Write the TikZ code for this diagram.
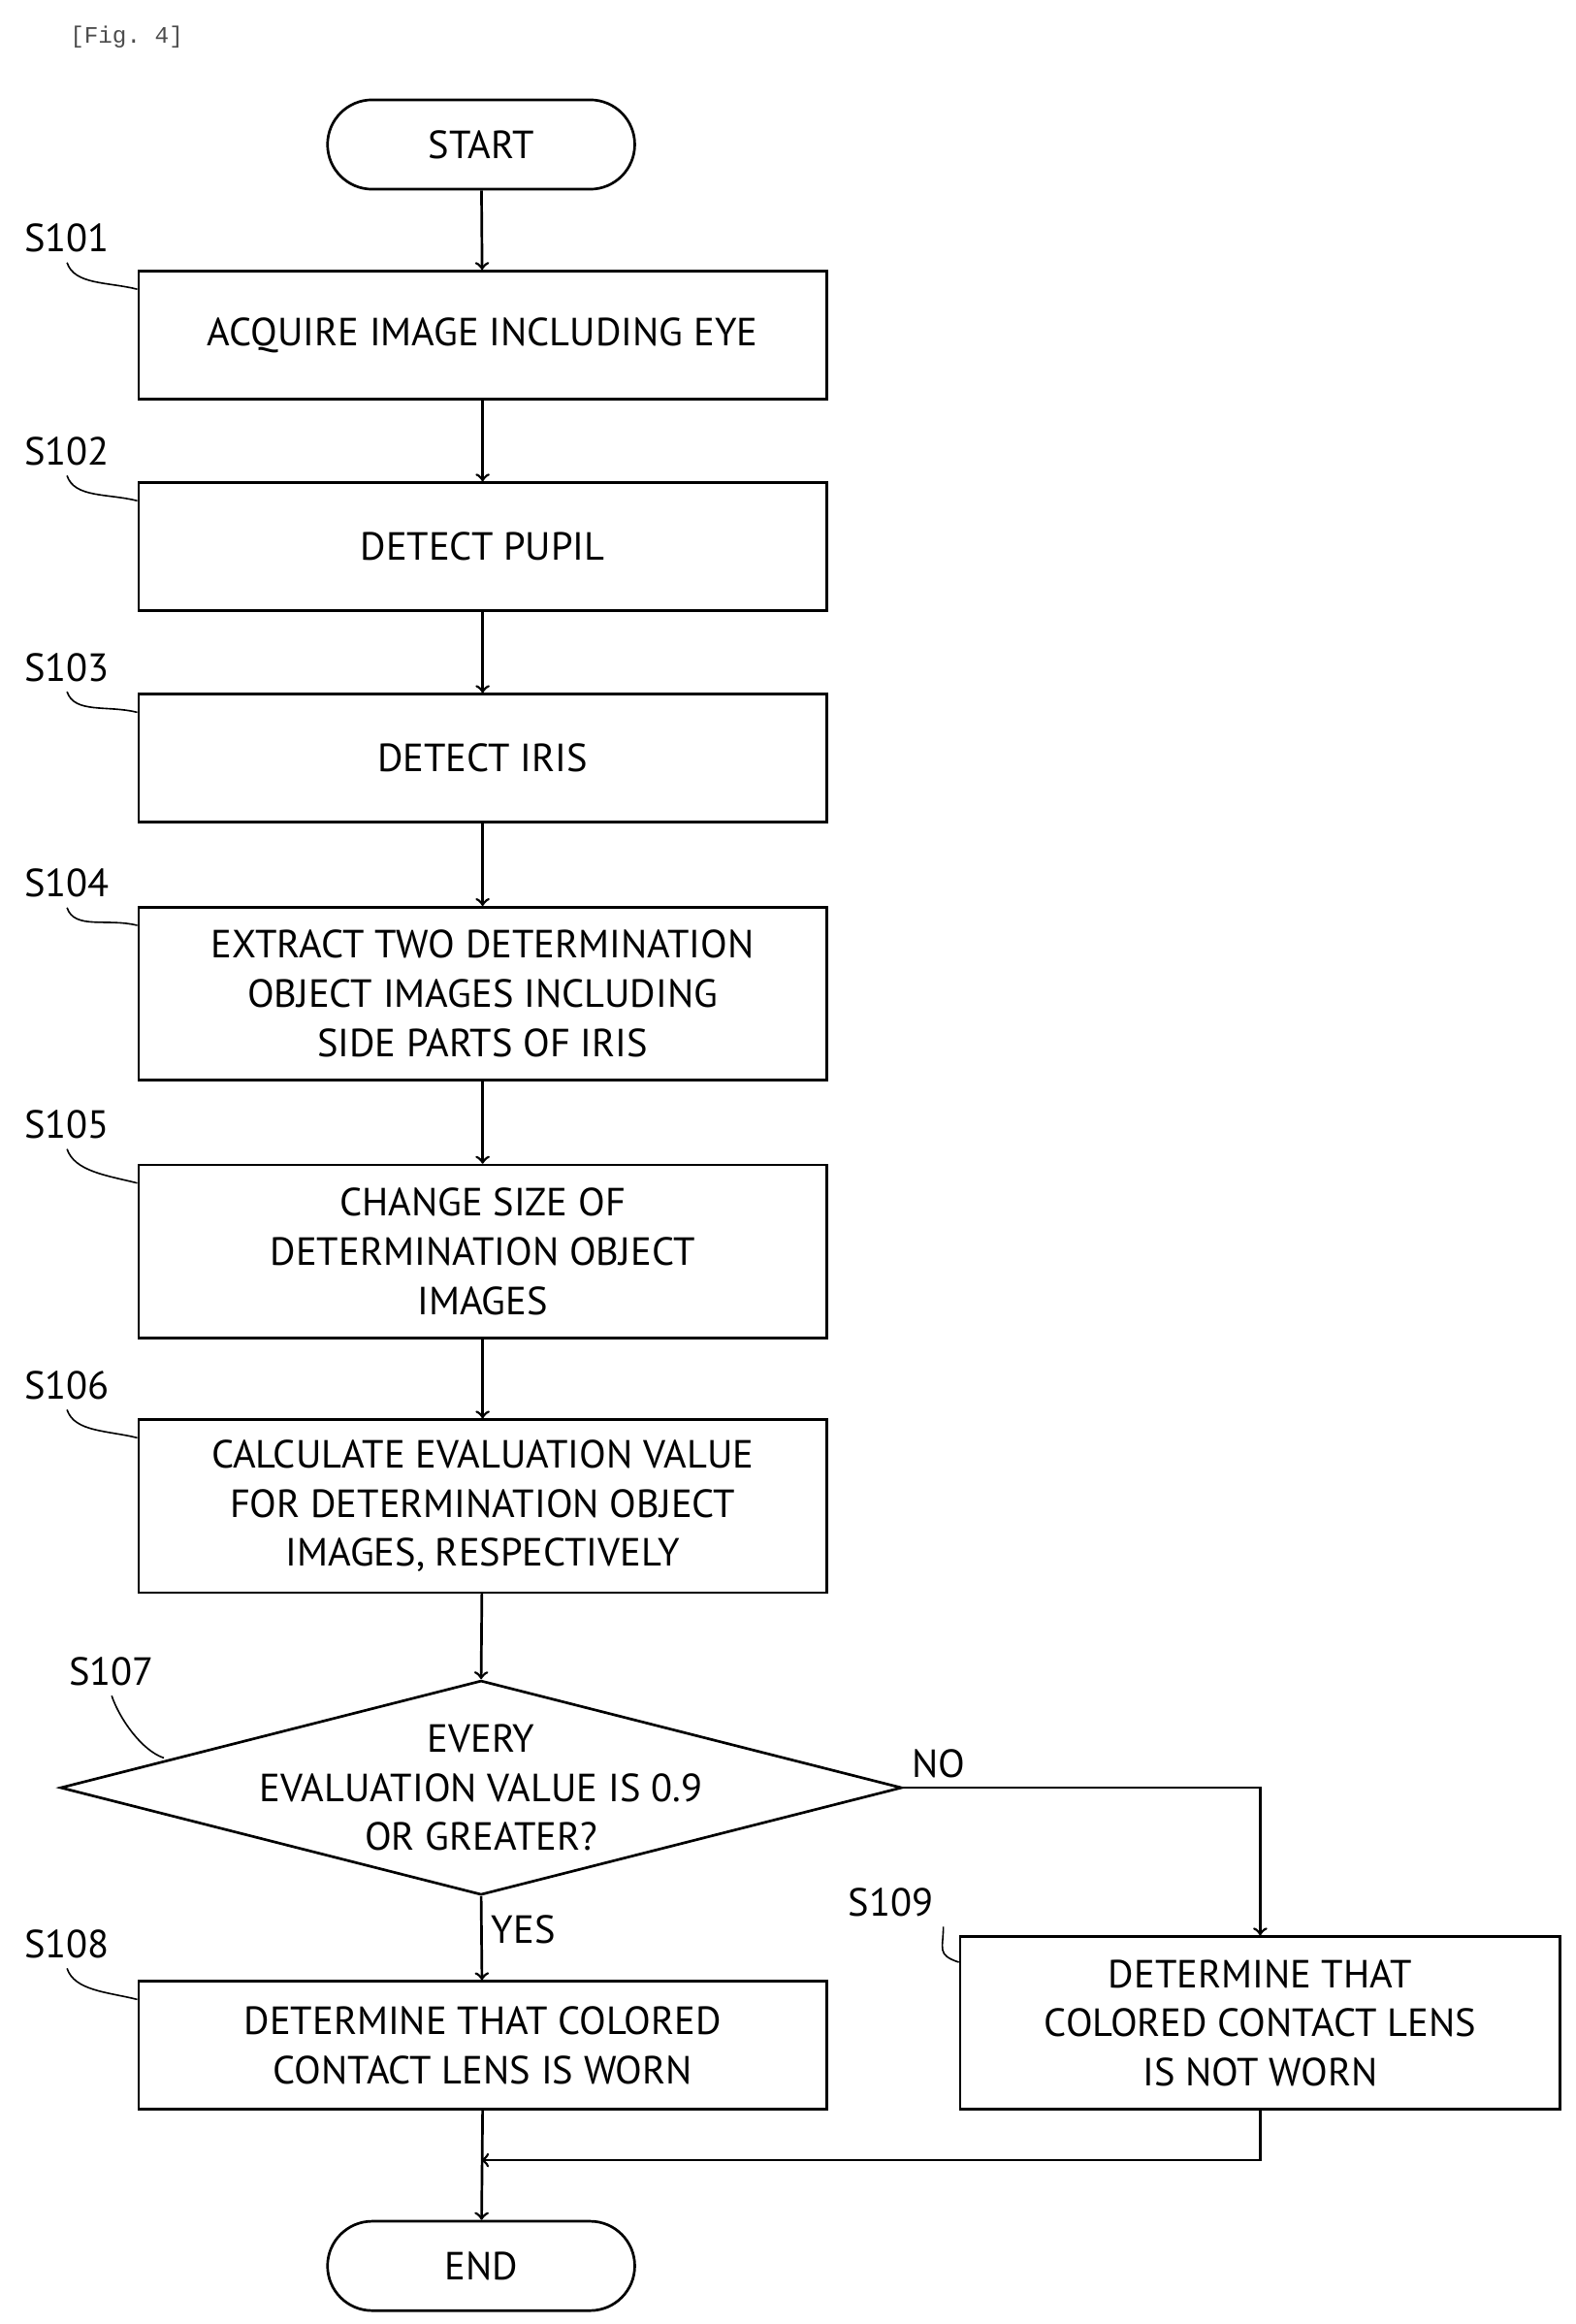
\documentclass[tikz,border=0pt]{standalone}
\usepackage{fontspec}
\setmainfont{PT Sans}
\setmonofont{Liberation Mono}
\usetikzlibrary{shapes.geometric,shapes.misc,positioning}

\begin{document}
\begin{tikzpicture}[x=0.02cm,y=-0.02cm,line width=1pt,
    font=\fontsize{15}{18.8}\selectfont,
    proc/.style={draw,rectangle,minimum width=9.24cm,minimum height=1.72cm,align=center,inner sep=2pt},
    tall/.style={proc,minimum height=2.32cm},
    term/.style={draw,rounded rectangle,minimum width=4.36cm,minimum height=1.2cm},
    tag/.style={font=\fontsize{15}{18}\selectfont},
    leader/.style={line width=0.6pt},
    ->, >=to]
  \useasboundingbox (0,0) rectangle (1058,1560);
  \node[font=\ttfamily\small,text=black!70] (fig) at (85,25) {[Fig. 4]};

  \node[term] (start) at (323,97) {START};
  \node[proc] (b101) at (324,225) {ACQUIRE IMAGE INCLUDING EYE};
  \node[proc] (b102) at (324,367) {DETECT PUPIL};
  \node[proc] (b103) at (324,509) {DETECT IRIS};
  \node[tall] (b104) at (324,667) {EXTRACT TWO DETERMINATION\\OBJECT IMAGES INCLUDING\\SIDE PARTS OF IRIS};
  \node[tall] (b105) at (324,840) {CHANGE SIZE OF\\DETERMINATION OBJECT\\IMAGES};
  \node[tall] (b106) at (324,1011) {CALCULATE EVALUATION VALUE\\FOR DETERMINATION OBJECT\\IMAGES, RESPECTIVELY};
  \node[draw,diamond,minimum width=11.3cm,minimum height=2.88cm,inner sep=0pt] (d107) at (323,1200) {};
  \node[align=center] (t107) at (323,1200) {EVERY\\EVALUATION VALUE IS 0.9\\OR GREATER?};
  \node[proc] (b108) at (324,1373) {DETERMINE THAT COLORED\\CONTACT LENS IS WORN};
  \node[tall,minimum width=8.06cm] (b109) at (846,1358) {DETERMINE THAT\\COLORED CONTACT LENS\\IS NOT WORN};
  \node[term] (end) at (323,1521) {END};
  \coordinate (merge) at (323,1450);

  % proc labels
  \node[tag] (l101) at (45,160) {S101};
  \node[tag] (l102) at (45,303) {S102};
  \node[tag] (l103) at (45,448) {S103};
  \node[tag] (l104) at (45,593) {S104};
  \node[tag] (l105) at (45,755) {S105};
  \node[tag] (l106) at (45,930) {S106};
  \node[tag] (l107) at (75,1122) {S107};
  \node[tag] (l108) at (45,1305) {S108};
  \node[tag] (l109) at (598,1277) {S109};
  \foreach \s in {101,102,103,104,105,106,108}
    \draw[leader,-] (l\s.south) .. controls +(5,15) and +(-20,-5) .. ([yshift=-0.26cm]b\s.north west);
  \draw[leader,-] (l107.south) .. controls +(5,15) and +(-15,-5) .. (110,1180);
  \draw[leader,-] (l109.south east) .. controls +(0,15) and +(-15,-5) .. ([yshift=-0.36cm]b109.north west);

  \draw (start) -- (b101);
  \draw (b101) -- (b102);
  \draw (b102) -- (b103);
  \draw (b103) -- (b104);
  \draw (b104) -- (b105);
  \draw (b105) -- (b106);
  \draw (b106) -- (d107.north);
  \draw (d107.south) -- node[right,pos=0.4] {YES} (b108);
  \draw (d107.east) -- node[above,pos=0.1] {NO} (d107.east -| b109.north) -- (b109.north);
  \draw (b108.south) -- (end);
  \draw (b109.south) |- (merge);
\end{tikzpicture}
\end{document}
